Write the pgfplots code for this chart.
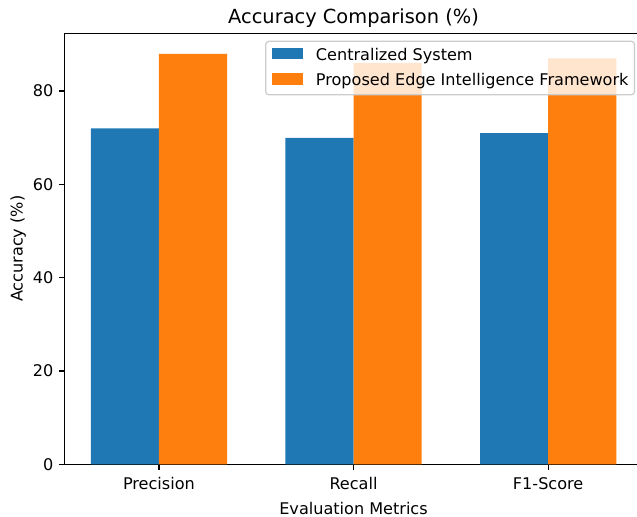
\documentclass[border=0pt]{standalone}
\usepackage{fontspec}
\setmainfont{DejaVu Sans}
\usepackage{pgfplots}
\pgfplotsset{compat=1.18}
\definecolor{tabblue}{HTML}{1F77B4}
\definecolor{taborange}{HTML}{FF7F0E}
\begin{document}
\begin{tikzpicture}
\fill[white] (-41pt,-33pt) rectangle (364pt,295pt);
\begin{scope}
\clip (-40.9pt,-32.8pt) rectangle (363.0pt,294.4pt);
\begin{axis}[
  at={(0,0)}, anchor=south west,
  scale only axis, width=366.5pt, height=273.3pt,
  xmin=-0.485, xmax=2.485, ymin=0, ymax=92.4,
  ybar, bar width=0.35,
  axis x line*=bottom, axis y line*=left,
  xtick={0,1,2}, xticklabels={Precision,Recall,F1-Score},
  ytick={0,20,40,60,80},
  tick align=outside, xtick pos=bottom, ytick pos=left,
  major tick length=3.5pt,
  tick style={line width=0.8pt, black},
  axis line style={-, line width=0.8pt, black},
  /pgf/number format/assume math mode=true,
  tick label style={font=\fontsize{10.2}{12}\selectfont},
  xticklabel style={yshift=-1.2pt},
  label style={font=\fontsize{10.2}{12}\selectfont},
  xlabel style={yshift=-1pt},
  ylabel style={yshift=-2.5pt},
  title style={font=\fontsize{12.3}{14}\selectfont, anchor=base},
  title={Accuracy Comparison (\%)},
  xlabel={Evaluation Metrics},
  ylabel={Accuracy (\%)},
  legend cell align=left,
  legend style={at={(1,1)}, anchor=north east, xshift=-4.7pt, yshift=-4.7pt,
    draw=black!20, line width=0.8pt, rounded corners=2pt, fill=white, fill opacity=0.8,
    draw opacity=1, text opacity=1, font=\fontsize{10.2}{12}\selectfont,
    inner xsep=3.8pt, inner ysep=3.5pt, row sep=4.9pt,
    nodes={inner sep=0pt, text height=8.6pt, text depth=2.4pt},
    /tikz/every odd column/.append style={column sep=8pt}},
  legend image code/.code={\fill[#1, fill opacity=1, sharp corners] (0pt,-2.5pt) rectangle (20pt,4.5pt);},
  extra description/.code={\draw[line width=0.8pt, black] (rel axis cs:0,1) -- (rel axis cs:1,1);},
]
\addplot[fill=tabblue, draw=none, bar shift=-0.175] coordinates {(0,72) (1,70) (2,71)};
\addplot[fill=taborange, draw=none, bar shift=0.175] coordinates {(0,88) (1,86) (2,87)};
\legend{Centralized System, Proposed Edge Intelligence Framework}
\end{axis}
\end{scope}
\pgfresetboundingbox
\useasboundingbox (-40.9pt,-32.8pt) rectangle (363.0pt,294.4pt);
\end{tikzpicture}
\end{document}
